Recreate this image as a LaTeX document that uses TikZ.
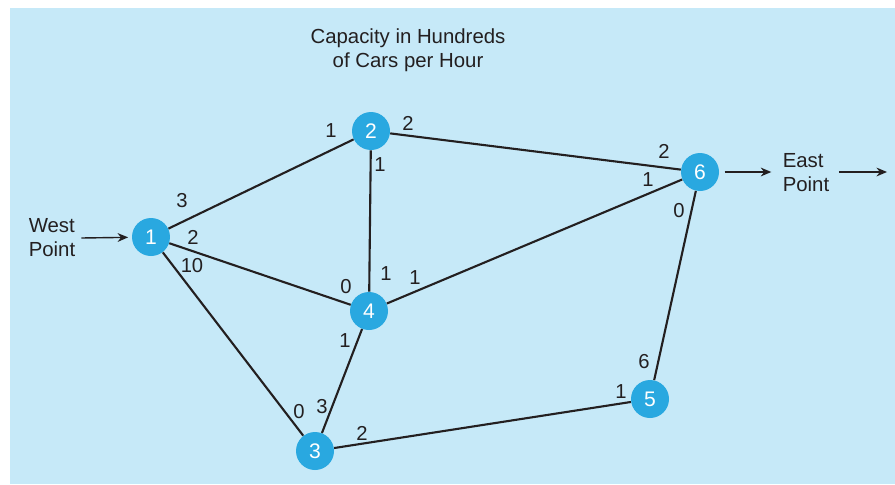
\documentclass[tikz,border=0pt]{standalone}
\usepackage{fontspec}
\setmainfont{Liberation Sans}
\usetikzlibrary{arrows.meta}
\definecolor{PaleSky}{RGB}{198,233,248}
\definecolor{NodeBlue}{RGB}{41,168,224}
\definecolor{InkGray}{RGB}{35,31,32}
\tikzset{
  station/.style={circle,fill=NodeBlue,text=white,minimum size=0.76cm,
    inner sep=0pt,font=\fontsize{12}{13}\selectfont},
  road/.style={InkGray,line width=1.2pt},
  flowcap/.style={text=InkGray,inner sep=0pt,font=\fontsize{11.5}{13}\selectfont},
  place/.style={text=InkGray,align=left,font=\fontsize{11.6}{13.7}\selectfont},
  flow/.style={-{Stealth[length=6pt,width=5pt]},InkGray,line width=0.8pt}
}

\begin{document}
\begin{tikzpicture}[x=0.02cm,y=-0.02cm]
  \useasboundingbox (0,0) rectangle (895,484);
  \fill[PaleSky] (10,8) rectangle (895,484);
  \node[place,align=center] (title) at (408,50) {Capacity in Hundreds\\of Cars per Hour};
  \node[station] (n1) at (151,237) {1};
  \node[station] (n2) at (371,131) {2};
  \node[station] (n3) at (315,451) {3};
  \node[station] (n4) at (369,311) {4};
  \node[station] (n5) at (650,399) {5};
  \node[station] (n6) at (700,172) {6};
  \node[place] (west) at (52,238) {West\\Point};
  \node[place] (east) at (806,173) {East\\Point};
  \coordinate (out) at (887,172);
  \draw[road] (n1) -- (n2);
  \draw[road] (n2) -- (n6);
  \draw[road] (n2) -- (n4);
  \draw[road] (n1) -- (n4);
  \draw[road] (n4) -- (n6);
  \draw[road] (n1) -- (n3);
  \draw[road] (n4) -- (n3);
  \draw[road] (n3) -- (n5);
  \draw[road] (n6) -- (n5);
  \draw[flow,shorten >=2pt] (west.east) -- (n1);
  \draw[flow,shorten <=3pt,shorten >=3pt] (n6) -- (east.west |- n6);
  \draw[flow,shorten <=2pt] (east.east |- out) -- (out);
  \foreach \x/\y/\t [count=\i] in {182/201/3, 331/131/1, 408/123/2, 664/151/2,
      380/165/1, 386/274/1, 193/237/2, 346/287/0, 415/278/1, 648/180/1,
      192/266/10, 299/412/0, 345/341/1, 322/407/3, 362/433/2, 621/392/1,
      679/211/0, 644/362/6}
    \node[flowcap] (c\i) at (\x,\y) {\t};
\end{tikzpicture}
\end{document}
